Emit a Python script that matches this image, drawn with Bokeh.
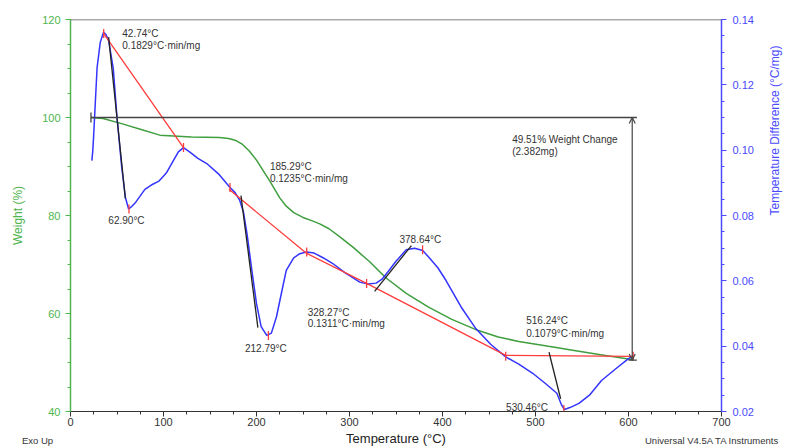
from bokeh.plotting import figure
from bokeh.models import (Range1d, LinearAxis, Span, Arrow, OpenHead, Div,
                          PrintfTickFormatter, SingleIntervalTicker)
from bokeh.layouts import column
from bokeh.core.properties import value
from bokeh.embed import file_html
from bokeh.resources import INLINE
import math

# ---- data ----
weight_x = [22, 35, 54, 75, 96, 130, 160, 170, 178, 185, 192, 200, 207, 215, 225, 232, 240, 250, 260,
            268, 278, 290, 304, 322, 339, 361, 385, 410, 436, 460, 482, 514, 540, 570, 600, 605]
weight_y = [100, 99.8, 98.8, 97.6, 96.4, 96.0, 95.9, 95.7, 95.3, 94.5, 93.2, 91.3, 89.2, 86.8, 83.6,
            81.9, 80.6, 79.6, 78.9, 78.3, 77.3, 75.6, 73.5, 70.5, 67.3, 64.1, 61.3, 58.8, 56.7,
            55.2, 54.3, 53.3, 52.5, 51.6, 50.7, 50.5]

dta_x = [23, 24, 25, 28.6, 32, 35.5, 38, 41, 46, 50, 55, 59, 62.5, 66, 70, 75, 80, 88, 95, 103, 110,
         116, 121.5, 128, 137, 146.5, 160, 171.5, 177, 182, 186, 190, 195, 200, 205, 211, 216, 221.5,
         227, 232, 240, 246.5, 253.7, 262, 272, 282, 295, 311, 320, 328.7, 335, 342, 350, 361, 370,
         378.7, 386, 395, 403.8, 420, 436, 452, 468, 482, 497, 511, 523, 528, 531, 537, 546.7, 558,
         571, 586, 600, 605]
dta_y = [0.0968, 0.100, 0.105, 0.1253, 0.1330, 0.1361, 0.1355, 0.1336, 0.125, 0.110, 0.095, 0.0855,
         0.0820, 0.0828, 0.0840, 0.0860, 0.0880, 0.0895, 0.0905, 0.0930, 0.0965, 0.0995, 0.1008,
         0.0995, 0.0975, 0.0959, 0.0925, 0.0886, 0.0870, 0.0846, 0.0810, 0.0740, 0.0632, 0.0530,
         0.0460, 0.0433, 0.0440, 0.0490, 0.0565, 0.0632, 0.0670, 0.0683, 0.0688, 0.0685, 0.0670,
         0.0653, 0.0625, 0.0596, 0.0590, 0.0593, 0.0605, 0.0630, 0.0660, 0.0695, 0.0700, 0.0693,
         0.0670, 0.0640, 0.0601, 0.0520, 0.0453, 0.0405, 0.0367, 0.0345, 0.0317, 0.0285, 0.0256,
         0.0220, 0.0206, 0.0212, 0.0225, 0.0250, 0.0295, 0.0330, 0.0362, 0.0370]

# red baseline constructions (DTA units)
red1_x = [35.7, 121.5]
red1_y = [0.1357, 0.1008]
red2_x = [170.4, 254, 318.4, 468, 605]
red2_y = [0.0880, 0.0684, 0.0592, 0.0372, 0.0369]

# black tangent constructions (DTA units)
tangents = [
    ([41, 59], [0.1346, 0.0852]),
    ([183.3, 201.5], [0.0861, 0.0457]),
    ([327, 366.6], [0.0568, 0.0708]),
    ([514.5, 527], [0.0382, 0.0239]),
]

# event markers (DTA units)
mark_x = [35.7, 62.9, 121.5, 171.5, 212.8, 254, 318.4, 378.6, 468, 530.5, 605]
mark_y = [0.1357, 0.0820, 0.1008, 0.0886, 0.0433, 0.0688, 0.0592, 0.0695, 0.0369, 0.0206, 0.0369]

# annotations (x in °C, y in weight %)
ann_text = ["42.74°C", "0.1829°C·min/mg", "185.29°C", "0.1235°C·min/mg", "62.90°C", "212.79°C",
            "328.27°C", "0.1311°C·min/mg", "378.64°C", "516.24°C", "0.1079°C·min/mg", "530.46°C",
            "49.51% Weight Change", "(2.382mg)"]
ann_x = [55.7, 55.7, 214.4, 214.4, 40.7, 187.6, 255, 255, 353.7, 490, 490, 468.4, 474.9, 474.9]
ann_y = [117.1, 114.7, 90.1, 87.6, 79.0, 52.9, 60.3, 58.0, 75.1, 58.6, 55.9, 40.9, 95.5, 93.1]

footer_left = "Exo Up"
footer_right = "Universal V4.5A TA Instruments"

weight_change_start = 100.0
weight_change_end = 50.5
weight_change_x = 604

GREEN = "#3f9f3f"
GREEN_AX = "#4fb54f"
BLUE = "#3434ff"
BLUE_AX = "#4a4aff"
RED = "#ff3c3c"
FONT = "Liberation Sans"

p = figure(width=791, height=448, output_backend="svg", toolbar_location=None,
           x_range=Range1d(0, 700), y_range=Range1d(40, 120),
           min_border_left=70, min_border_right=69, min_border_top=19, min_border_bottom=37)
p.outline_line_color = None
p.grid.visible = False
p.background_fill_color = "white"
p.border_fill_color = "white"

p.extra_y_ranges = {"dta": Range1d(0.02, 0.14)}

# ---- axes ----
xa = p.xaxis[0]
xa.ticker = SingleIntervalTicker(interval=100, num_minor_ticks=4)
xa.axis_label = "Temperature (°C)"
xa.axis_label_text_font = FONT
xa.axis_label_text_font_style = "normal"
xa.axis_label_text_font_size = "13px"
xa.axis_label_text_color = "#222222"
xa.axis_label_standoff = 2
xa.major_label_text_font = FONT
xa.major_label_text_font_size = "11px"
xa.major_label_text_color = "#333333"
xa.major_label_standoff = 1
xa.axis_line_color = "#333333"
xa.major_tick_line_color = "#333333"
xa.minor_tick_line_color = "#333333"
xa.major_tick_out = 5
xa.major_tick_in = 0
xa.minor_tick_out = 3
xa.minor_tick_in = 0

ya = p.yaxis[0]
ya.ticker = SingleIntervalTicker(interval=20, num_minor_ticks=4)
ya.axis_label = "Weight (%)"
ya.axis_label_text_font = FONT
ya.axis_label_text_font_style = "normal"
ya.axis_label_text_font_size = "12px"
ya.axis_label_text_color = GREEN_AX
ya.axis_label_standoff = 14
ya.major_label_text_font = FONT
ya.major_label_text_font_size = "11px"
ya.major_label_text_color = GREEN_AX
ya.axis_line_color = GREEN_AX
ya.axis_line_width = 1.5
ya.major_tick_line_color = GREEN_AX
ya.minor_tick_line_color = GREEN_AX
ya.major_tick_out = 5
ya.major_tick_in = 0
ya.minor_tick_out = 3
ya.minor_tick_in = 0

ra = LinearAxis(y_range_name="dta")
ra.ticker = SingleIntervalTicker(interval=0.02, num_minor_ticks=4)
ra.formatter = PrintfTickFormatter(format="%.2f")
ra.axis_label = "Temperature Difference (°C/mg)"
ra.axis_label_orientation = math.pi / 2
ra.axis_label_text_font = FONT
ra.axis_label_text_font_style = "normal"
ra.axis_label_text_font_size = "12px"
ra.axis_label_text_color = BLUE_AX
ra.axis_label_standoff = 18
ra.major_label_text_font = FONT
ra.major_label_text_font_size = "11px"
ra.major_label_text_color = BLUE_AX
ra.major_label_standoff = 6
ra.axis_line_color = BLUE_AX
ra.axis_line_width = 1.5
ra.major_tick_line_color = BLUE_AX
ra.minor_tick_line_color = BLUE_AX
ra.major_tick_out = 5
ra.major_tick_in = 0
ra.minor_tick_out = 3
ra.minor_tick_in = 0
p.add_layout(ra, "right")

p.add_layout(Span(location=120, dimension="width", line_color="#555555", line_width=1.5))

# ---- curves ----
p.line(weight_x, weight_y, line_color=GREEN, line_width=1.5)
p.line(dta_x, dta_y, line_color=BLUE, line_width=1.5, y_range_name="dta")
p.line(red1_x, red1_y, line_color=RED, line_width=1.3, y_range_name="dta")
p.line(red2_x, red2_y, line_color=RED, line_width=1.3, y_range_name="dta")
for tx, ty in tangents:
    p.line(tx, ty, line_color="#222222", line_width=1.3, y_range_name="dta")
p.scatter(mark_x, mark_y, marker="dash", angle=math.pi / 2, size=9, line_color=RED,
          line_width=1.3, y_range_name="dta")

# weight change construction
p.line([weight_x[0], weight_change_x + 5], [weight_change_start, weight_change_start],
       line_color="#444444", line_width=1.3)
p.line([weight_x[0], weight_x[0]], [weight_change_start - 1, weight_change_start + 1],
       line_color="#444444", line_width=1.3)
p.line([weight_change_x - 4, weight_change_x + 5], [weight_change_end, weight_change_end],
       line_color="#444444", line_width=1.3)
p.add_layout(Arrow(x_start=weight_change_x, y_start=weight_change_start,
                   x_end=weight_change_x, y_end=weight_change_end,
                   line_color="#444444", line_width=1.2,
                   start=OpenHead(size=6, line_color="#444444", line_width=1.2),
                   end=OpenHead(size=6, line_color="#444444", line_width=1.2)))

p.text(ann_x, ann_y, text=ann_text, text_font=value(FONT), text_font_size="10px",
       text_color="#333333", text_baseline="middle", text_align="left")

footer = Div(
    width=791, height=14, margin=(-14, 0, 0, 0),
    text=('<div style="position:relative;width:791px;height:14px;'
          'font-family:\'Liberation Sans\';font-size:9.5px;color:#333333;">'
          f'<span style="position:absolute;left:22px;top:0px;">{footer_left}</span>'
          f'<span style="position:absolute;left:645px;top:0px;white-space:nowrap;">{footer_right}</span>'
          '</div>'))

layout = column(p, footer, spacing=0)
open("out.html", "w").write(file_html(layout, INLINE))
